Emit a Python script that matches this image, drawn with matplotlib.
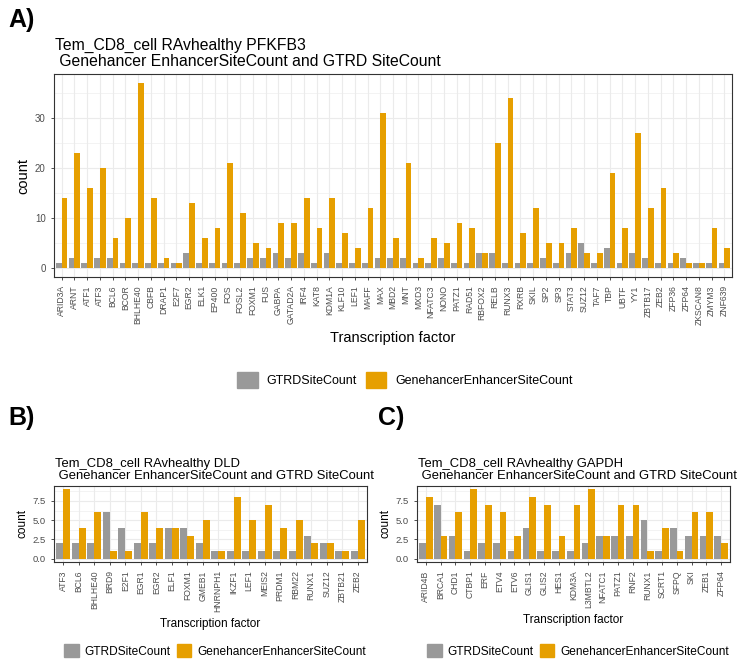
import numpy as np
import matplotlib
matplotlib.use('Agg')
import matplotlib.pyplot as plt
from matplotlib.patches import Patch
from matplotlib.ticker import MultipleLocator, FormatStrFormatter

plt.rcParams['font.family'] = ['Liberation Sans', 'DejaVu Sans']

# panel A: PFKFB3
tf_a = ['ARID3A', 'ARNT', 'ATF1', 'ATF3', 'BCL6', 'BCOR', 'BHLHE40', 'CBFB', 'DRAP1', 'E2F7',
        'EGR2', 'ELK1', 'EP400', 'FOS', 'FOSL2', 'FOXM1', 'FUS', 'GABPA', 'GATAD2A', 'IRF4',
        'KAT8', 'KDM1A', 'KLF10', 'LEF1', 'MAFF', 'MAX', 'MBD2', 'MNT', 'MXD3', 'NFATC3',
        'NONO', 'PATZ1', 'RAD51', 'RBFOX2', 'RELB', 'RUNX3', 'RXRB', 'SKIL', 'SP2', 'SP3',
        'STAT3', 'SUZ12', 'TAF7', 'TBP', 'UBTF', 'YY1', 'ZBTB17', 'ZEB2', 'ZFP36', 'ZFP64',
        'ZKSCAN8', 'ZMYM3', 'ZNF639']
gtrd_a = [1, 2, 1, 2, 2, 1, 1, 1, 1, 1,
          3, 1, 1, 1, 1, 2, 2, 3, 2, 3,
          1, 3, 1, 1, 1, 2, 2, 2, 1, 1,
          2, 1, 1, 3, 3, 1, 1, 1, 2, 1,
          3, 5, 1, 4, 1, 3, 2, 1, 1, 2,
          1, 1, 1]
enh_a = [14, 23, 16, 20, 6, 10, 37, 14, 2, 1,
         13, 6, 8, 21, 11, 5, 4, 9, 9, 14,
         8, 14, 7, 4, 12, 31, 6, 21, 2, 6,
         5, 9, 8, 3, 25, 34, 7, 12, 5, 5,
         8, 3, 3, 19, 8, 27, 12, 16, 3, 1,
         1, 8, 4]

# panel B: DLD
tf_b = ['ATF3', 'BCL6', 'BHLHE40', 'BRD9', 'E2F1', 'EGR1', 'EGR2', 'ELF1', 'FOXM1', 'GMEB1',
        'HNRNPH1', 'IKZF1', 'LEF1', 'MEIS2', 'PRDM1', 'RBM22', 'RUNX1', 'SUZ12', 'ZBTB21', 'ZEB2']
gtrd_b = [2, 2, 2, 6, 4, 2, 2, 4, 4, 2, 1, 1, 1, 1, 1, 1, 3, 2, 1, 1]
enh_b = [9, 4, 6, 1, 1, 6, 4, 4, 3, 5, 1, 8, 5, 7, 4, 5, 2, 2, 1, 5]

# panel C: GAPDH
tf_c = ['ARID4B', 'BRCA1', 'CHD1', 'CTBP1', 'ERF', 'ETV4', 'ETV6', 'GLIS1', 'GLIS2', 'HES1',
        'KDM3A', 'L3MBTL2', 'NFATC1', 'PATZ1', 'RNF2', 'RUNX1', 'SCRT1', 'SFPQ', 'SKI', 'ZEB1',
        'ZFP64']
gtrd_c = [2, 7, 3, 1, 2, 2, 1, 4, 1, 1, 1, 2, 3, 3, 3, 5, 1, 4, 3, 3, 3]
enh_c = [8, 3, 6, 9, 7, 6, 3, 8, 7, 3, 7, 9, 3, 7, 7, 1, 4, 1, 6, 6, 2]

GREY = '#999999'
ORANGE = '#E69F00'
W, H = 742, 668


def fx(px):
    return px / W


def fy(py):
    return 1 - py / H


def bar_panel(ax, tfs, gtrd, enh, major, minor, xtick_size, ytick_size, label_size):
    x = np.arange(len(tfs))
    ax.bar(x - 0.225, gtrd, width=0.45, color=GREY, zorder=3)
    ax.bar(x + 0.225, enh, width=0.45, color=ORANGE, zorder=3)
    n = len(tfs)
    top = max(max(gtrd), max(enh))
    ax.set_xlim(-0.6, n - 0.4)
    ax.set_ylim(-top * 0.05, top * 1.05)
    ax.set_xticks(x)
    ax.set_xticklabels(tfs, rotation=90, fontsize=xtick_size, color='#4d4d4d')
    ax.yaxis.set_major_locator(MultipleLocator(major))
    ax.yaxis.set_minor_locator(MultipleLocator(minor))
    ax.tick_params(axis='y', labelsize=ytick_size, labelcolor='#4d4d4d')
    ax.tick_params(which='both', color='#333333', length=2.5, width=0.6)
    ax.tick_params(which='minor', length=0)
    ax.grid(which='major', color='#ebebeb', linewidth=0.8, zorder=0)
    ax.grid(which='minor', axis='y', color='#ebebeb', linewidth=0.4, zorder=0)
    for s in ax.spines.values():
        s.set_color('#333333')
        s.set_linewidth(0.8)
    ax.set_xlabel('Transcription factor', fontsize=label_size, labelpad=4)
    ax.set_ylabel('count', fontsize=label_size, labelpad=3)


def add_legend(cx, cy, size, box, pad, gap):
    handles = [Patch(color=GREY, label='GTRDSiteCount'),
               Patch(color=ORANGE, label='GenehancerEnhancerSiteCount')]
    fig.legend(handles=handles, loc='center', bbox_to_anchor=(fx(cx), fy(cy)), ncol=2,
               frameon=False, fontsize=size, handlelength=box, handleheight=box,
               columnspacing=gap, handletextpad=pad)


fig = plt.figure(figsize=(W / 100, H / 100), dpi=100)

# A
ax_a = fig.add_axes([fx(54), fy(277), fx(732 - 54), (277 - 74) / H])
bar_panel(ax_a, tf_a, gtrd_a, enh_a, 10, 5, 6.2, 7, 10.5)
ax_a.set_title('Tem_CD8_cell RAvhealthy PFKFB3\n Genehancer EnhancerSiteCount and GTRD SiteCount',
               loc='left', fontsize=11.3, x=0.002, pad=6, linespacing=1.05)
fig.text(fx(8), fy(20), 'A)', fontsize=18, fontweight='bold', va='center')
add_legend(405, 380, 9.0, 1.65, 0.7, 0.7)

# B
ax_b = fig.add_axes([fx(54), fy(562), fx(367 - 54), (562 - 486) / H])
bar_panel(ax_b, tf_b, gtrd_b, enh_b, 2.5, 1.25, 6.2, 6.8, 8.5)
ax_b.set_title('Tem_CD8_cell RAvhealthy DLD\n Genehancer EnhancerSiteCount and GTRD SiteCount',
               loc='left', fontsize=9.4, x=0.003, pad=5, linespacing=1.05)
ax_b.yaxis.set_major_formatter(FormatStrFormatter('%.1f'))
fig.text(fx(8), fy(418), 'B)', fontsize=18, fontweight='bold', va='center')
add_legend(215, 651, 8.6, 1.2, 0.5, 0.5)

# C
ax_c = fig.add_axes([fx(417), fy(562), fx(730 - 417), (562 - 486) / H])
bar_panel(ax_c, tf_c, gtrd_c, enh_c, 2.5, 1.25, 6.2, 6.8, 8.5)
ax_c.set_title('Tem_CD8_cell RAvhealthy GAPDH\n Genehancer EnhancerSiteCount and GTRD SiteCount',
               loc='left', fontsize=9.4, x=0.003, pad=5, linespacing=1.05)
ax_c.yaxis.set_major_formatter(FormatStrFormatter('%.1f'))
fig.text(fx(378), fy(418), 'C)', fontsize=18, fontweight='bold', va='center')
add_legend(578, 651, 8.6, 1.2, 0.5, 0.5)

fig.savefig('out.png', dpi=100)
